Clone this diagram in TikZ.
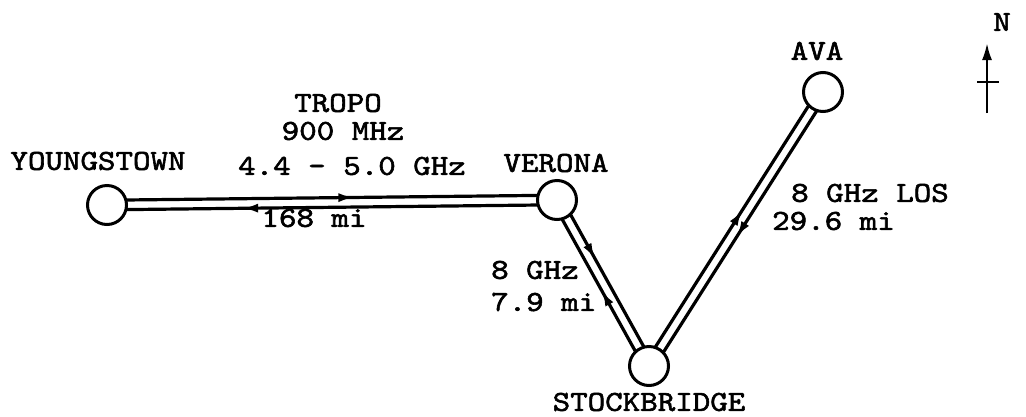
\documentclass[tikz,border=0pt]{standalone}
\usepackage{fontspec}
\newfontfamily\twfont{lmmono10-regular.otf}[FakeStretch=1.15,FakeBold=2]
\usetikzlibrary{calc,decorations.markings,arrows.meta,backgrounds}
\begin{document}
\begin{tikzpicture}[x=1pt,y=-1pt,
  site/.style={circle,draw,line width=3pt,minimum size=39pt,inner sep=0pt,fill=white},
  lbl/.style={inner sep=0pt,font=\twfont\fontsize{29}{34}\selectfont},
  lane/.style={line width=3.2pt},
  lanearrow/.style={decoration={markings,mark=at position #1 with {\arrow{Latex[length=16pt,width=9pt]}}},postaction={decorate}},
  ]
\useasboundingbox (0,0) rectangle (1026,416);
% sites
\node[site] (Y) at (107,205) {};
\node[site] (V) at (557,200) {};
\node[site] (S) at (649,366) {};
\node[site] (A) at (823,92) {};
% lanes (each lane on the left of its direction of travel)
\begin{scope}[on background layer]
\draw[lane,lanearrow=0.55] ($(Y.center)!4.8pt!90:(V.center)$) -- ($(V.center)!4.8pt!-90:(Y.center)$);
\draw[lane,lanearrow=0.70] ($(V.center)!4.8pt!90:(Y.center)$) -- ($(Y.center)!4.8pt!-90:(V.center)$);
\draw[lane,lanearrow=0.37] ($(V.center)!4.8pt!90:(S.center)$) -- ($(S.center)!4.8pt!-90:(V.center)$);
\draw[lane,lanearrow=0.47] ($(S.center)!4.8pt!90:(V.center)$) -- ($(V.center)!4.8pt!-90:(S.center)$);
\draw[lane,lanearrow=0.56] ($(S.center)!4.8pt!90:(A.center)$) -- ($(A.center)!4.8pt!-90:(S.center)$);
\draw[lane,lanearrow=0.52] ($(A.center)!4.8pt!90:(S.center)$) -- ($(S.center)!4.8pt!-90:(A.center)$);
\end{scope}
% labels
\node[lbl] (tY) at (98,161) {YOUNGSTOWN};
\node[lbl] (tT) at (338,103) {TROPO};
\node[lbl] (tM) at (343,131) {900 MHz};
\node[lbl] (tG) at (352,166) {4.4 - 5.0 GHz};
\node[lbl] (tD) at (314,218) {168 mi};
\node[lbl] (tV) at (556,163) {VERONA};
\node[lbl,anchor=west] (t8) at (491,270) {8 GHz};
\node[lbl,anchor=west] (t79) at (491,302) {7.9 mi};
\node[lbl] (tS) at (649,402) {STOCKBRIDGE};
\node[lbl] (tA) at (817,51) {AVA};
\node[lbl,anchor=west] (tL) at (791,193) {8 GHz LOS};
\node[lbl,anchor=west] (t29) at (772,221) {29.6 mi};
% north arrow
\node[lbl] (tN) at (1002,22) {N};
\coordinate (nb) at (987,113);
\coordinate (nt) at (987,43);
\coordinate (cl) at (977,82);
\coordinate (cr) at (999,82);
\draw[line width=2.4pt,-{Latex[length=17pt,width=10pt]}] (nb) -- (nt);
\draw[line width=2.4pt] (cl) -- (cr);
\end{tikzpicture}
\end{document}
